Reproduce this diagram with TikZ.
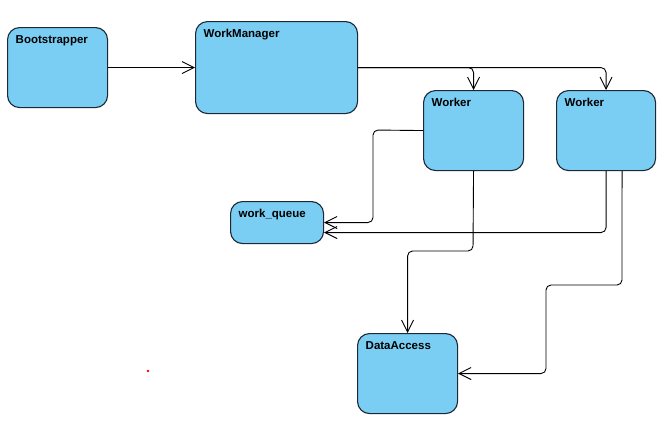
\documentclass[tikz,border=0pt]{standalone}
\usepackage{fontspec}
\setmainfont{Liberation Sans}
\usetikzlibrary{arrows.meta}
\definecolor{golub}{RGB}{122,206,244}
\definecolor{kontur}{RGB}{28,40,52}
\begin{document}
\begin{tikzpicture}[x=1pt, y=-1pt,
                blok/.style={draw=kontur, line width=1.1pt, fill=golub, rounded corners=12pt, anchor=north west, inner sep=0pt},
                nadpis/.style={anchor=north west, inner sep=0pt, xshift=8.5pt, yshift=-8pt, font=\fontsize{11.5}{13}\selectfont\bfseries},
                strelka/.style={draw=black, line width=0.9pt, rounded corners=5pt, -{Straight Barb[length=12pt, width=12pt, line width=0.9pt]}}]
% поле
                \useasboundingbox [fill=white] ( 0, 0 ) rectangle ( 672, 421 );
% прямоугольники
                \node [blok, minimum width=100pt, minimum height=80pt, label={[nadpis]north west:Bootstrapper}] (boot) at ( 7, 27 ) {};
                \node [blok, minimum width=162pt, minimum height=92pt, label={[nadpis]north west:WorkManager}] (wm) at ( 195, 21 ) {};
                \node [blok, minimum width=100pt, minimum height=80pt, label={[nadpis]north west:Worker}] (w1) at ( 423, 90 ) {};
                \node [blok, minimum width=99pt, minimum height=80pt, label={[nadpis]north west:Worker}] (w2) at ( 556, 90 ) {};
                \node [blok, minimum width=93pt, minimum height=42pt, label={[nadpis]north west:work\_queue}] (queue) at ( 230, 201 ) {};
                \node [blok, minimum width=100pt, minimum height=80pt, label={[nadpis]north west:DataAccess}] (da) at ( 357, 333 ) {};
% стрелки
                \draw [strelka] (boot) -- (wm);
                \draw [strelka] (wm.east) -| (w1.north);
                \draw [strelka] (wm.east) -| (w2.north);
                \draw [strelka] (w1.west) -- ( 373, 130 ) |- (queue.east);
                \draw [strelka] (w2.south) |- ([yshift=-10pt]queue.east);
                \draw [strelka] (w1.south) -- ( 473, 251 ) -| (da.north);
                \draw [strelka] ([xshift=16pt]w2.south) -- ( 622, 285 ) -- ( 546, 285 ) |- (da.east);
% точка
                \fill [red] ( 148, 371 ) circle ( 1.3 );
\end{tikzpicture}
\end{document}
